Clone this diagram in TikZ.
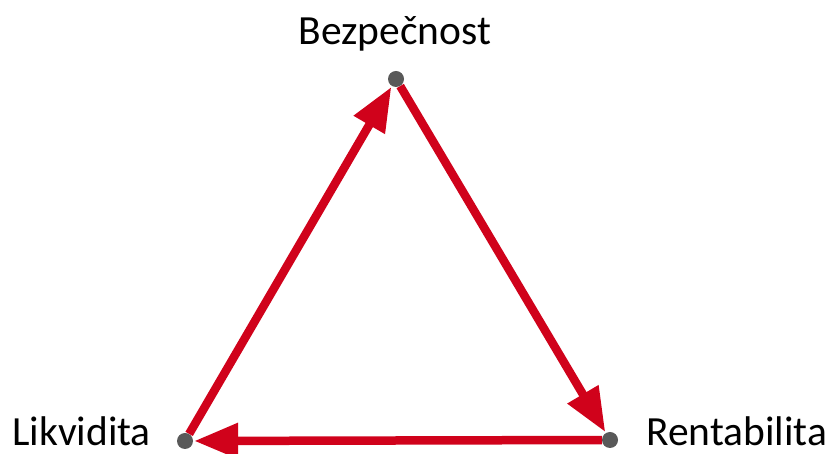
\documentclass[tikz,border=0pt]{standalone}
\usepackage{fontspec}
\setmainfont{Carlito}
\usetikzlibrary{arrows.meta,backgrounds}
\definecolor{arrred}{HTML}{D0021B}
\definecolor{dotgray}{HTML}{595959}
\begin{document}
\begin{tikzpicture}[x=1pt,y=1pt,
  dot/.style={circle,fill=dotgray,inner sep=0pt,minimum size=16pt},
  lbl/.style={font=\fontsize{41.5}{44}\selectfont,text=black,inner sep=0pt},
  arr/.style={draw=arrred,line width=8.5pt,-{Triangle[length=44pt,width=34pt]},shorten >=1pt}]
\useasboundingbox (0,0) rectangle (830,454);
\node[dot] (B) at (396,375) {};
\node[dot] (L) at (185,13) {};
\node[dot] (R) at (610,14) {};
\node[lbl,anchor=base] (tB) at (395,409) {Bezpečnost};
\node[lbl,anchor=base west] (tL) at (12,8) {Likvidita};
\node[lbl,anchor=base west] (tR) at (646,8) {Rentabilita};
\begin{scope}[on background layer]
\draw[arr] (L) -- (B);
\draw[arr] (B) -- (R);
\draw[arr] (R) -- (L);
\end{scope}
\end{tikzpicture}
\end{document}
